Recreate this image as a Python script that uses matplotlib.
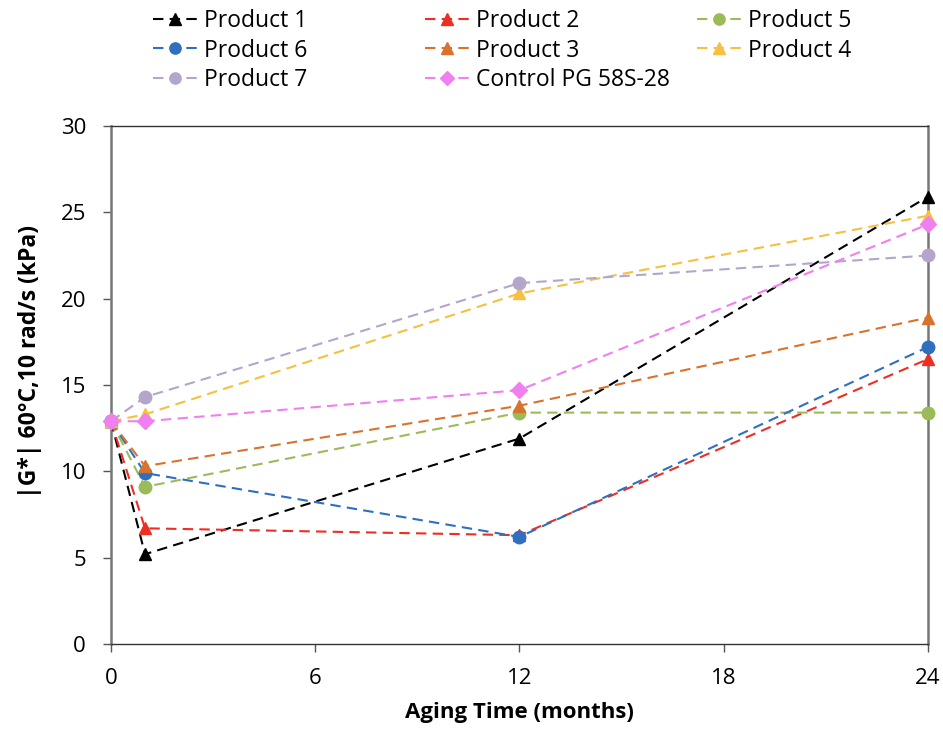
import matplotlib
matplotlib.use("Agg")
import matplotlib.pyplot as plt

months = [0, 1, 12, 24]
labels = ["Product 1", "Product 2", "Product 5", "Product 6", "Product 3",
          "Product 4", "Product 7", "Control PG 58S-28"]
p1 = [12.9, 5.2, 11.9, 25.9]
p2 = [12.9, 6.7, 6.3, 16.5]
p5 = [12.9, 9.1, 13.4, 13.4]
p6 = [12.9, 9.9, 6.2, 17.2]
p3 = [12.9, 10.3, 13.8, 18.9]
p4 = [12.9, 13.3, 20.3, 24.8]
p7 = [12.9, 14.3, 20.9, 22.5]
ctrl = [12.9, 12.9, 14.7, 24.3]
x_ticks = [0, 6, 12, 18, 24]
y_ticks = [0, 5, 10, 15, 20, 25, 30]

series = [
    ("Product 1", p1, "black", "^"),
    ("Product 2", p2, "#EE2E22", "^"),
    ("Product 5", p5, "#9BBB59", "o"),
    ("Product 6", p6, "#2F6FBF", "o"),
    ("Product 3", p3, "#D9722C", "^"),
    ("Product 4", p4, "#F6C040", "^"),
    ("Product 7", p7, "#B3A6CA", "o"),
    ("Control PG 58S-28", ctrl, "#F07FF0", "D"),
]

plt.rcParams['font.family'] = ['Open Sans', 'DejaVu Sans']
fig = plt.figure(figsize=(9.43, 7.29), dpi=100)
ax = fig.add_axes([0.1177, 0.1166, 0.8663, 0.7106])

handles = {}
for name, vals, col, mk in series:
    ms = 9 if mk != "D" else 8
    h, = ax.plot(months, vals, linestyle=(0, (5, 3)), color=col, lw=1.5,
                 marker=mk, markersize=ms, markerfacecolor=col, markeredgecolor=col,
                 label=name, clip_on=False, zorder=3)
    handles[name] = h

ax.set_xlim(0, 24)
ax.set_ylim(0, 30)
ax.set_xticks(x_ticks)
ax.set_yticks(y_ticks)
ax.tick_params(axis='both', labelsize=16, length=6, width=1, color='#555555',
               direction='out')
ax.tick_params(axis='x', pad=11)
ax.tick_params(axis='y', pad=12)
for s in ['left', 'right']:
    ax.spines[s].set_color('#777777')
    ax.spines[s].set_linewidth(1.8)
for s in ['top', 'bottom']:
    ax.spines[s].set_color('#333333')
    ax.spines[s].set_linewidth(1.0)

ax.set_xlabel("Aging Time (months)", fontsize=16, fontweight='bold', labelpad=10)
ax.set_ylabel("|G*| 60°C,10 rad/s (kPa)", fontsize=16.5, fontweight='bold')
ax.yaxis.set_label_coords(-0.0845, 0.546)

columns = [["Product 1", "Product 6", "Product 7"],
           ["Product 2", "Product 3", "Control PG 58S-28"],
           ["Product 5", "Product 4"]]
col_x = [142, 414, 686]
for names, xpx in zip(columns, col_x):
    fig.legend([handles[n] for n in names], names, ncol=1,
               loc='upper left', bbox_to_anchor=(xpx / 943, 1 + 2 / 729),
               frameon=False, fontsize=16.5, handlelength=1.9,
               labelspacing=0.22, handletextpad=0.3, borderpad=0,
               markerscale=0.9)

fig.savefig("out.png", dpi=100)
